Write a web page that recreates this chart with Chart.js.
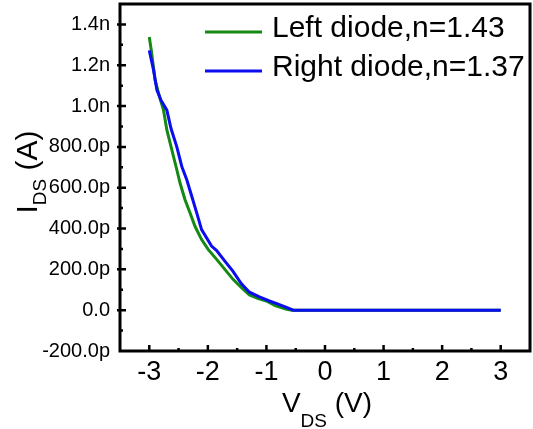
<!DOCTYPE html>
<html lang="en">
<head>
  <meta charset="UTF-8">
  <title>Diode I-V</title>
  <script src="https://cdn.jsdelivr.net/npm/chart.js"></script>
  <style>
    body { margin: 0; background: #fff; }
    .wrap { width: 533px; height: 429px; position: relative; }
  </style>
</head>
<body>
  <div class="wrap"><canvas id="ivChart"></canvas></div>

  <script>
    // V_DS in volts, I_DS in nA
    const leftV = [-3.00, -2.966, -2.90, -2.825, -2.757, -2.70, -2.615, -2.53, -2.475, -2.39, -2.305, -2.22, -2.107, -1.995, -1.85, -1.71, -1.57, -1.43, -1.29, -1.15, -1.00, -0.85, -0.67, -0.57, 3.00];
    const leftI = [1.338, 1.273, 1.127, 1.045, 0.98, 0.883, 0.785, 0.688, 0.623, 0.541, 0.477, 0.411, 0.346, 0.298, 0.249, 0.20, 0.151, 0.112, 0.075, 0.058, 0.045, 0.022, 0.006, 0.0, 0.0];
    const rightV = [-3.00, -2.927, -2.87, -2.80, -2.70, -2.63, -2.53, -2.445, -2.36, -2.275, -2.19, -2.107, -1.937, -1.85, -1.71, -1.57, -1.43, -1.29, -1.12, -0.95, -0.80, -0.67, -0.54, 3.00];
    const rightI = [1.273, 1.176, 1.078, 1.029, 0.98, 0.891, 0.80, 0.704, 0.639, 0.558, 0.477, 0.395, 0.314, 0.292, 0.24, 0.19, 0.13, 0.088, 0.065, 0.045, 0.03, 0.015, 0.0, 0.0];

    const seriesLabels = ['Left diode,n=1.43', 'Right diode,n=1.37'];
    const xTickVals = [-3, -2, -1, 0, 1, 2, 3];
    const xTickLabels = ['-3', '-2', '-1', '0', '1', '2', '3'];
    const yTickVals = [-0.2, 0, 0.2, 0.4, 0.6, 0.8, 1.0, 1.2, 1.4];
    const yTickLabels = ['-200.0p', '0.0', '200.0p', '400.0p', '600.0p', '800.0p', '1.0n', '1.2n', '1.4n'];

    const FONT = "'Liberation Sans', Arial, sans-serif";
    const green = '#148a14';
    const blue = '#0c0cf0';

    const toPts = (xs, ys) => xs.map((v, i) => ({ x: v, y: ys[i] }));

    // frame, inward ticks, axis titles with subscripts, legend
    const decor = {
      id: 'decor',
      afterDraw(chart) {
        const { ctx, chartArea: a, scales: { x, y } } = chart;
        ctx.save();
        ctx.strokeStyle = '#000';
        ctx.lineWidth = 3;
        ctx.strokeRect(a.left, a.top, a.right - a.left, a.bottom - a.top);

        ctx.lineWidth = 2.5;
        ctx.beginPath();
        for (let v = -3.5; v <= 3.5001; v += 0.5) {
          const px = x.getPixelForValue(v);
          const len = Math.abs(v - Math.round(v)) < 1e-6 ? 6 : 3;
          if (px <= a.left + 2 || px >= a.right - 2) continue;
          ctx.moveTo(px, a.bottom); ctx.lineTo(px, a.bottom - len);
        }
        for (let v = -0.2; v <= 1.5001; v += 0.1) {
          const py = y.getPixelForValue(v);
          const major = Math.abs(v * 5 - Math.round(v * 5)) < 1e-6;
          if (py <= a.top + 2 || py >= a.bottom - 2) continue;
          ctx.moveTo(a.left - (major ? 3 : 0), py); ctx.lineTo(a.left + (major ? 6 : 3), py);
        }
        ctx.stroke();

        ctx.fillStyle = '#000';
        ctx.textBaseline = 'alphabetic';

        // x title: V_DS (V)
        const cx = (a.left + a.right) / 2 + 2;
        ctx.font = '28px ' + FONT;
        const wV = ctx.measureText('V').width;
        const wP = ctx.measureText(' (V)').width;
        ctx.font = '19px ' + FONT;
        const wS = ctx.measureText('DS').width;
        let sx = cx - (wV + wS + wP) / 2;
        ctx.font = '28px ' + FONT;
        ctx.fillText('V', sx, 412);
        ctx.font = '19px ' + FONT;
        ctx.fillText('DS', sx + wV, 427);
        ctx.font = '28px ' + FONT;
        ctx.fillText(' (V)', sx + wV + wS, 412);

        // y title: I_DS (A), rotated
        ctx.save();
        ctx.translate(37, 172);
        ctx.rotate(-Math.PI / 2);
        ctx.font = '30px ' + FONT;
        const wI = ctx.measureText('I').width;
        const wA = ctx.measureText(' (A)').width;
        ctx.font = '19px ' + FONT;
        const wD = ctx.measureText('DS').width;
        sx = -(wI + wD + wA) / 2;
        ctx.font = '30px ' + FONT;
        ctx.fillText('I', sx, 0);
        ctx.font = '19px ' + FONT;
        ctx.fillText('DS', sx + wI, 9);
        ctx.font = '30px ' + FONT;
        ctx.fillText(' (A)', sx + wI + wD, 0);
        ctx.restore();

        // legend
        ctx.font = '30px ' + FONT;
        chart.data.datasets.forEach((ds, i) => {
          const ly = a.top + 28 + i * 39;
          ctx.strokeStyle = ds.borderColor;
          ctx.lineWidth = 3;
          ctx.beginPath();
          ctx.moveTo(205, ly); ctx.lineTo(262, ly);
          ctx.stroke();
          ctx.fillText(ds.label, 272, ly + 5);
        });
        ctx.restore();
      }
    };

    new Chart(document.getElementById('ivChart'), {
      type: 'line',
      data: {
        datasets: [
          { label: seriesLabels[0], data: toPts(leftV, leftI), borderColor: green, backgroundColor: green, borderWidth: 3, pointRadius: 0, order: 1 },
          { label: seriesLabels[1], data: toPts(rightV, rightI), borderColor: blue, backgroundColor: blue, borderWidth: 3, pointRadius: 0, order: 0 }
        ]
      },
      options: {
        responsive: true,
        maintainAspectRatio: false,
        animation: false,
        layout: { padding: { left: 0, top: 4, right: 3, bottom: 0 } },
        plugins: { legend: { display: false }, tooltip: { enabled: false } },
        scales: {
          x: {
            type: 'linear', min: -3.5, max: 3.5,
            grid: { display: false, drawTicks: false }, border: { display: false },
            afterBuildTicks: s => { s.ticks = xTickVals.map(v => ({ value: v })); },
            afterFit: s => { s.height = 78; s.paddingLeft = 0; s.paddingRight = 0; },
            ticks: { color: '#000', font: { family: FONT, size: 27 }, padding: 5, maxRotation: 0,
              callback: (v, i) => xTickLabels[i] }
          },
          y: {
            type: 'linear', min: -0.2, max: 1.5,
            grid: { display: false, drawTicks: false }, border: { display: false },
            afterBuildTicks: s => { s.ticks = yTickVals.map(v => ({ value: v })); },
            afterFit: s => { s.width = 120; s.paddingTop = 0; s.paddingBottom = 0; },
            ticks: { color: '#000', font: { family: FONT, size: 20 }, padding: 10,
              callback: (v, i) => yTickLabels[i] }
          }
        }
      },
      plugins: [decor]
    });
  </script>
</body>
</html>
